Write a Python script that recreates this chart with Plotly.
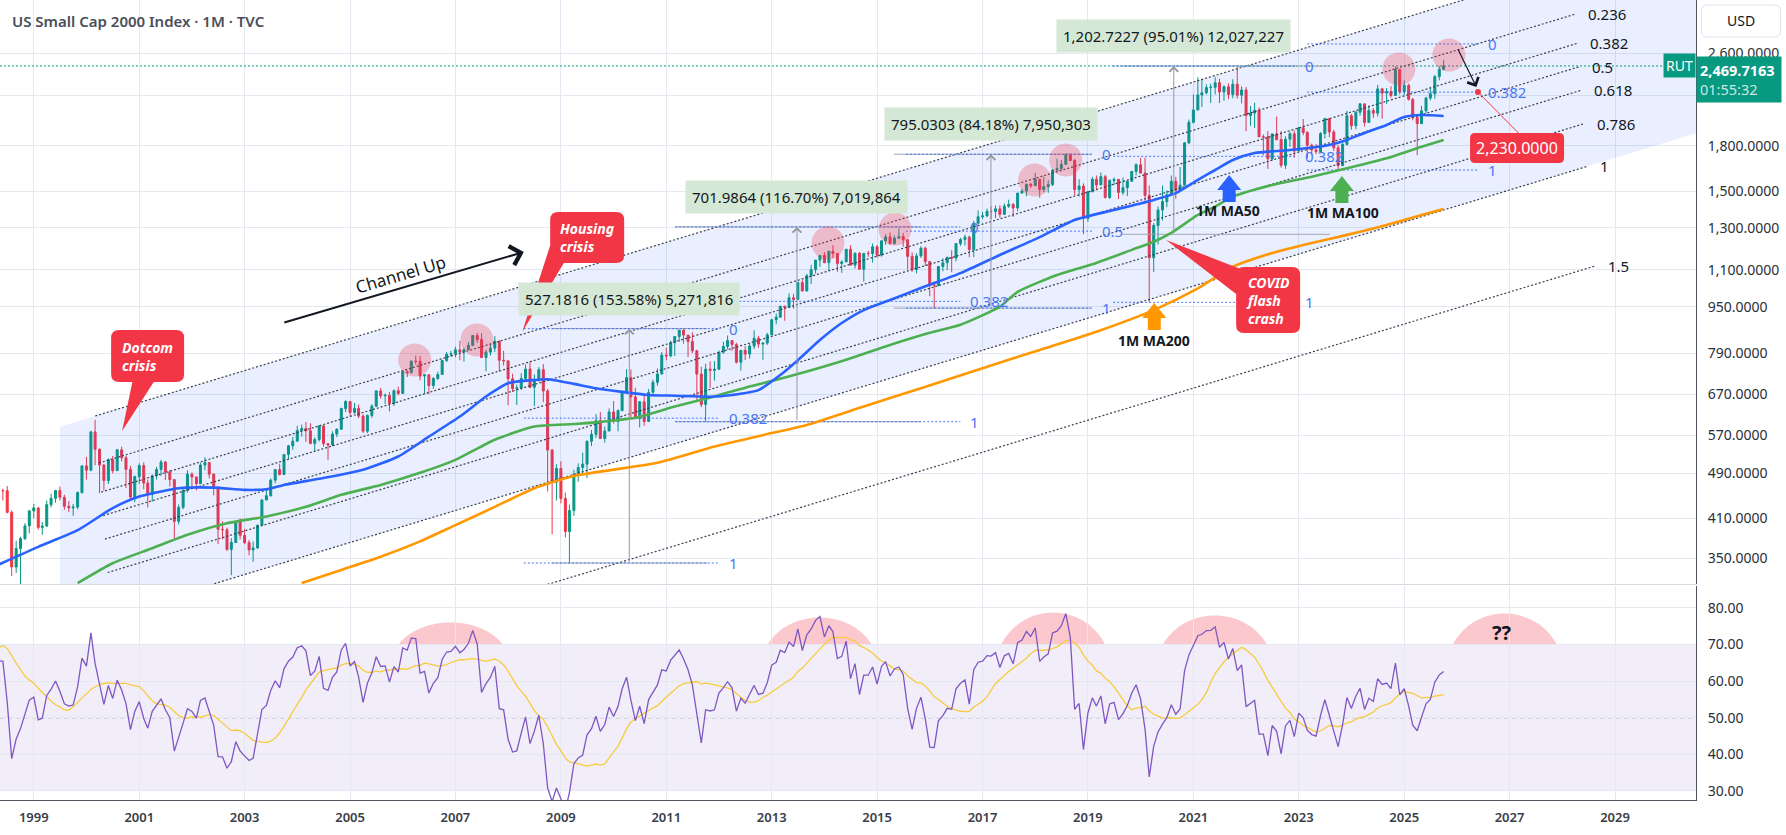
import numpy as np
import pandas as pd
import plotly.graph_objects as go

# ------------------------------------------------------------------ data ---
FIRST_MONTH = "1997-01-01"
OPEN_FIRST = 362.6
LAST_PRICE = 2469.7163

# closes of 1996, used only to warm up the RSI (left of the visible range)
warmup_closes_1996 = [315.4, 324.9, 332.6, 352.0, 365.9, 346.6, 316.0, 334.1, 346.4, 341.9, 354.1, 362.6]

closes = [
    369.9, 360.0, 342.6, 343.0, 380.8, 396.4, 414.5, 423.4, 453.8, 434.0, 431.1, 437.0,  # 1997
    430.1, 462.0, 481.0, 483.1, 457.4, 457.4, 419.8, 337.9, 363.6, 378.2, 397.8, 422.0,  # 1998
    427.2, 395.3, 397.6, 432.8, 443.7, 457.7, 445.6, 430.0, 427.3, 428.6, 454.1, 504.8,  # 1999
    496.2, 577.7, 539.1, 506.3, 476.2, 517.2, 495.3, 537.9, 521.4, 497.7, 445.9, 483.5,  # 2000
    505.3, 471.5, 450.5, 485.3, 497.7, 512.6, 492.7, 478.0, 404.9, 428.2, 458.0, 488.5,  # 2001
    483.1, 470.3, 506.5, 511.6, 488.5, 462.6, 392.4, 391.7, 362.3, 372.3, 404.0, 383.1,  # 2002
    372.2, 361.6, 364.5, 398.7, 441.0, 448.4, 477.0, 497.4, 487.7, 528.2, 546.5, 556.9,  # 2003
    580.8, 585.6, 580.1, 551.5, 560.3, 591.5, 551.3, 548.5, 572.9, 583.8, 633.8, 651.6,  # 2004
    624.0, 634.1, 615.1, 579.4, 616.7, 639.7, 679.8, 666.5, 667.8, 646.6, 680.2, 673.2,  # 2005
    733.2, 730.6, 765.1, 764.5, 721.0, 724.7, 694.6, 714.1, 725.6, 766.8, 786.1, 787.7,  # 2006
    800.3, 793.3, 800.7, 814.6, 847.2, 833.7, 776.1, 792.9, 805.5, 828.0, 767.8, 766.0,  # 2007
    713.3, 686.2, 687.9, 714.6, 741.5, 689.7, 710.7, 739.5, 679.6, 537.5, 473.1, 499.5,  # 2008
    443.5, 389.0, 422.8, 487.6, 501.6, 508.3, 556.7, 572.1, 604.3, 562.8, 579.7, 625.4,  # 2009
    602.0, 628.6, 678.6, 716.6, 663.8, 609.5, 650.9, 602.1, 676.1, 703.4, 727.0, 783.7,  # 2010
    781.3, 823.5, 843.6, 865.3, 848.3, 827.4, 797.0, 726.8, 644.2, 741.1, 737.4, 740.9,  # 2011
    792.8, 810.9, 830.3, 816.9, 761.8, 798.5, 786.9, 812.1, 837.5, 818.7, 821.9, 849.4,  # 2012
    902.1, 911.1, 951.5, 947.5, 984.1, 977.5, 1045.3, 1010.9, 1073.8, 1100.2, 1142.9, 1163.6,  # 2013
    1130.9, 1183.0, 1173.0, 1126.9, 1134.5, 1192.9, 1120.1, 1174.3, 1101.7, 1173.5, 1173.2, 1204.7,  # 2014
    1165.4, 1233.4, 1252.8, 1220.1, 1246.5, 1253.9, 1238.7, 1159.5, 1100.7, 1161.9, 1198.1, 1135.9,  # 2015
    1035.4, 1033.9, 1114.0, 1130.8, 1154.8, 1151.9, 1219.9, 1239.9, 1251.7, 1191.4, 1322.3, 1357.1,  # 2016
    1361.8, 1386.7, 1385.9, 1400.4, 1370.2, 1415.4, 1425.1, 1405.3, 1490.9, 1502.8, 1544.1, 1535.5,  # 2017
    1574.9, 1512.5, 1529.4, 1541.9, 1633.6, 1643.1, 1670.8, 1740.8, 1696.6, 1511.4, 1533.3, 1348.6,  # 2018
    1499.4, 1575.6, 1540.2, 1591.2, 1465.5, 1566.6, 1574.6, 1494.8, 1523.4, 1562.5, 1624.5, 1668.5,  # 2019
    1614.1, 1476.4, 1153.1, 1310.7, 1394.0, 1441.4, 1480.4, 1561.9, 1507.7, 1538.5, 1819.8, 1974.9,  # 2020
    2073.6, 2201.1, 2220.5, 2266.5, 2268.9, 2310.6, 2226.3, 2273.8, 2204.4, 2297.2, 2198.9, 2245.3,  # 2021
    2028.5, 2048.1, 2070.1, 1864.1, 1864.0, 1707.9, 1885.2, 1844.1, 1664.7, 1846.9, 1886.6, 1761.3,  # 2022
    1931.9, 1896.9, 1802.5, 1768.9, 1757.4, 1888.7, 2003.2, 1899.9, 1785.1, 1662.3, 1809.0, 2027.1,  # 2023
    1947.3, 2054.8, 2124.5, 1973.9, 2070.1, 2047.7, 2254.5, 2217.6, 2229.9, 2196.7, 2434.7, 2230.2,  # 2024
    2287.7, 2163.1, 2011.9, 1964.1, 2066.3, 2175.0, 2211.6, 2366.4, 2436.5, 2469.7163,             # 2025
]
highs = [
    374, 374, 364, 344, 381, 398, 416, 428, 454, 466, 436, 441,
    440, 463, 483, 491, 485, 461, 466, 423, 375, 381, 402, 424,
    434, 428, 404, 440, 452, 459, 465, 450, 439, 434, 456, 505,
    523, 580, 606, 541, 509, 520, 525, 540, 545, 525, 505, 486,
    510, 512, 478, 488, 503, 517, 515, 497, 478, 433, 460, 496,
    492, 484, 511, 522, 513, 490, 465, 405, 395, 379, 406, 410,
    393, 376, 374, 400, 442, 461, 480, 498, 509, 529, 549, 566,
    592, 595, 601, 598, 565, 593, 593, 552, 579, 586, 636, 655,
    651, 648, 644, 619, 619, 645, 681, 688, 673, 677, 684, 691,
    737, 738, 767, 782, 781, 726, 727, 718, 734, 769, 793, 797,
    810, 829, 807, 825, 848, 856, 855, 800, 820, 845, 831, 797,
    766, 728, 697, 729, 755, 764, 726, 747, 756, 685, 540, 508,
    514, 454, 433, 497, 510, 532, 558, 582, 620, 625, 590, 634,
    653, 632, 680, 741, 740, 688, 653, 669, 685, 711, 743, 793,
    807, 830, 844, 866, 870.4, 849, 858, 800, 748, 757, 764, 765,
    798, 826, 847, 832, 823, 799, 812, 821, 865, 846, 824, 856,
    904, 925, 952, 953, 1002, 1000, 1048, 1055, 1082, 1121, 1143, 1165,
    1179, 1187, 1212, 1176, 1142, 1193, 1213, 1178, 1180, 1174, 1185, 1221,
    1213, 1235, 1266, 1275, 1260, 1296, 1273, 1240, 1178, 1174, 1207, 1205,
    1136, 1050, 1116, 1151, 1159, 1188, 1220, 1248, 1264, 1259, 1335, 1392,
    1383, 1402, 1414, 1419, 1420, 1430, 1452, 1434, 1491, 1516, 1548, 1553,
    1615, 1578, 1590, 1569, 1640, 1708, 1700, 1742, 1740, 1707, 1575, 1550,
    1505, 1590, 1599, 1618, 1603, 1575, 1586, 1576, 1586, 1568, 1628, 1678,
    1715, 1716, 1536, 1323, 1414, 1536, 1508, 1599, 1590, 1654, 1826, 1996,
    2205, 2360, 2344, 2296, 2302, 2362, 2347, 2288, 2305, 2343, 2459, 2277,
    2272, 2106, 2134, 2095, 1882, 1907, 1891, 2021, 1907, 1868, 1902, 1911,
    1938, 2001, 1907, 1814, 1811, 1899, 2011, 2010, 1917, 1804, 1818, 2067,
    2041, 2065, 2130, 2125, 2111, 2090, 2291, 2264, 2263, 2280, 2466, 2441,
    2333, 2302, 2175, 2032, 2107, 2184, 2275, 2382, 2468, 2530,
]
lows = [
    358, 355, 340, 335, 342, 375, 394, 408, 422, 419, 420, 422,
    414, 429, 460, 472, 452, 440, 418, 326, 330, 310, 376, 386,
    410, 392, 384, 396, 428, 436, 440, 424, 420, 414, 425, 452,
    478, 494, 506, 453, 458, 470, 490, 495, 514, 462, 440, 437,
    470, 460, 428, 438, 478, 485, 477, 465, 378, 400, 425, 454,
    466, 458, 470, 496, 480, 449, 370, 377, 360, 327, 372, 377,
    370, 354, 345, 363, 398, 440, 447, 471, 486, 488, 518, 538,
    556, 567, 555, 550, 535, 556, 545, 517, 546, 566, 583, 625,
    614, 621, 610, 575, 575, 611, 638, 659, 645, 627, 640, 668,
    674, 718, 729, 755, 709, 671, 671, 685, 710, 725, 763, 778,
    777, 768, 764, 800, 812, 822, 775, 735, 782, 793, 735, 752,
    642, 677, 643, 683, 710, 687, 640, 705, 650, 456, 385, 440,
    435, 380, 343, 414, 474, 490, 481, 546, 564, 562, 554, 580,
    597, 579, 627, 673, 610, 607, 588, 592, 601, 665, 694, 726,
    768, 777, 781, 826, 820, 778, 790, 651, 637, 601.7, 688, 708,
    739, 788, 801, 797, 758, 737, 768, 773, 803, 807, 769, 816,
    857, 886, 910, 898, 944, 942, 976, 1009, 1009, 1039, 1083, 1112,
    1129, 1094, 1151, 1091, 1086, 1137, 1119, 1105, 1101, 1049, 1157, 1131,
    1154, 1158, 1214, 1215, 1215, 1246, 1205, 1101, 1091, 1084, 1153, 1116,
    990, 943, 1029, 1093, 1098, 1089, 1137, 1209, 1211, 1156, 1156, 1318,
    1345, 1355, 1344, 1350, 1352, 1368, 1406, 1356, 1387, 1489, 1472, 1521,
    1535, 1463, 1495, 1492, 1533, 1625, 1632, 1671, 1692, 1479, 1471, 1266,
    1331, 1495, 1507, 1540, 1459, 1456, 1537, 1456, 1480, 1473, 1561, 1599,
    1610, 1446, 966, 1090, 1216, 1337, 1410, 1478, 1458, 1503, 1545, 1811,
    1965, 2072, 2099, 2206, 2133, 2206, 2132, 2151, 2164, 2172, 2169, 2129,
    1906, 1947, 1932, 1861, 1733, 1641, 1698, 1837, 1649, 1641, 1792, 1716,
    1762, 1876, 1714, 1733, 1740, 1754, 1852, 1861, 1763, 1633, 1666, 1800,
    1917, 1920, 2028, 1942, 1971, 2009, 2020, 2003, 2124, 2177, 2193, 2205,
    2200, 2153, 1990, 1733, 1998, 2049, 2155, 2167, 2332, 2428,
]

# moving averages at sample months
ma50_months = ["1998-05", "1999-02", "1999-11", "2000-07", "2001-01", "2001-06", "2001-10", "2002-06",
               "2003-01", "2003-06", "2003-10", "2004-07", "2005-04", "2005-12", "2006-07", "2007-02",
               "2007-08", "2008-01", "2008-07", "2008-10", "2009-04", "2009-09", "2010-09", "2011-03",
               "2011-11", "2012-04", "2012-10", "2013-03", "2013-07", "2013-12", "2014-05", "2014-10",
               "2015-04", "2015-11", "2016-08", "2017-05", "2018-02", "2018-10", "2019-07", "2020-04",
               "2020-09", "2021-02", "2021-06", "2021-10", "2022-03", "2022-11", "2023-08", "2023-12",
               "2024-04", "2024-09", "2025-01", "2025-05", "2025-10"]
ma50_vals = [341, 366, 391, 427, 447, 456, 462, 463, 459, 460, 468, 481, 497, 524, 567, 614, 665, 701,
             710, 712, 699, 687, 669, 667, 664, 669, 682, 724, 768, 832, 890, 937, 975, 1023, 1085, 1166,
             1252, 1340, 1394, 1451, 1491, 1571, 1634, 1700, 1748, 1769, 1805, 1841, 1893, 1954, 2017,
             2033, 2025]
ma100_months = ["1999-11", "2000-07", "2001-04", "2001-12", "2002-09", "2003-06", "2004-03", "2004-11",
                "2005-08", "2006-05", "2007-01", "2007-10", "2008-07", "2009-04", "2009-09", "2010-06",
                "2011-03", "2011-12", "2012-08", "2013-01", "2013-09", "2014-06", "2015-03", "2016-01",
                "2016-08", "2017-05", "2017-09", "2018-06", "2019-03", "2019-11", "2020-04", "2020-08",
                "2021-02", "2021-06", "2021-10", "2022-07", "2023-04", "2023-12", "2024-09", "2025-05",
                "2025-10"]
ma100_vals = [317, 343, 364, 384, 402, 413, 429, 450, 468, 491, 517, 560, 590, 596, 600, 611, 639, 665,
              692, 707, 734, 769, 811, 856, 884, 950, 1007, 1077, 1130, 1190, 1229, 1273, 1367, 1413,
              1470, 1539, 1591, 1645, 1712, 1792, 1841]
ma200_months = ["2004-02", "2004-11", "2005-08", "2006-05", "2007-01", "2007-10", "2008-07", "2009-04",
                "2010-11", "2011-12", "2013-01", "2013-09", "2014-10", "2015-11", "2017-01", "2018-02",
                "2019-03", "2020-04", "2021-02", "2021-10", "2022-07", "2023-04", "2023-12", "2024-09",
                "2025-05", "2025-10"]
ma200_vals = [317, 334, 352, 374, 399, 429, 462, 485, 511, 545, 575, 594, 639, 687, 744, 800, 860, 937,
              1021, 1113, 1175, 1223, 1263, 1314, 1367, 1400]

# parallel (fib) channel: anchor times (decimal years) and level-0 / level-1 prices
CH_T = [2000.167, 2028.507]
CH_L0 = [615.3, 3734.0]
CH_L1 = [273.8, 1661.0]
CH_LEVELS = [0, 0.236, 0.382, 0.5, 0.618, 0.786, 1, 1.5]

# price-range measurements
meas_diff = [527.1816, 701.9864, 795.0303, 1202.7227]
meas_pct = [153.58, 116.70, 84.18, 95.01]
meas_t = [2010.30, 2013.48, 2017.16, 2020.63]
meas_from = [2008.82, 2011.17, 2015.32, 2019.66]
meas_to = [2011.78, 2015.83, 2019.06, 2023.59]

# fib retracements (log levels)
fib_p0 = [870.44, 1303.52, 1739.47, 2468.61, 2695.0]
fib_p1 = [343.26, 601.53, 944.44, 966.2, 1634.0]
fib_levels = [[0, 0.382, 1], [0, 0.382, 1], [0, 0.5, 1], [0, 0.382, 1], [0, 0.382, 1]]
fib_from = [2008.30, 2011.17, 2015.55, 2019.48, 2023.16]
fib_to = [2012.00, 2016.58, 2019.08, 2022.93, 2026.40]

# highlighted tops
top_t = [2006.23, 2007.41, 2014.07, 2015.34, 2017.99, 2018.58, 2024.90, 2025.85]
top_p = [768.6, 832.1, 1222.9, 1292.5, 1570.4, 1700.2, 2439.7, 2579.6]

# RSI overbought domes
dome_t = [2006.91, 2013.91, 2018.34, 2021.41, 2026.91]

TARGET = 2230.0
TARGET_T = 2026.40

# ---------------------------------------------------------------- helpers --
def ts(y):
    yr = int(np.floor(y))
    a = pd.Timestamp(year=yr, month=1, day=1)
    b = pd.Timestamp(year=yr + 1, month=1, day=1)
    return (a + (b - a) * (y - yr)).strftime("%Y-%m-%d")


def lg(p):
    return float(np.log10(p))


def chan_price(level, t):
    f = (t - CH_T[0]) / (CH_T[1] - CH_T[0])
    g0 = lg(CH_L0[0]) + f * (lg(CH_L0[1]) - lg(CH_L0[0]))
    g1 = lg(CH_L1[0]) + f * (lg(CH_L1[1]) - lg(CH_L1[0]))
    return 10 ** (g0 + level * (g1 - g0))


def fib_price(p0, p1, lev):
    return 10 ** (lg(p0) + lev * (lg(p1) - lg(p0)))


def rrect(w, h, r):
    a, b = w / 2, h / 2
    return (f"M{-a + r},{b} L{a - r},{b} Q{a},{b} {a},{b - r} L{a},{-b + r} Q{a},{-b} {a - r},{-b} "
            f"L{-a + r},{-b} Q{-a},{-b} {-a},{-b + r} L{-a},{b - r} Q{-a},{b} {-a + r},{b} Z")


def poly(pts):
    return "M" + " L".join(f"{x},{y}" for x, y in pts) + " Z"


def rma(values, n):
    out = np.full(len(values), np.nan)
    out[n] = np.mean(values[1:n + 1])
    for i in range(n + 1, len(values)):
        out[i] = (out[i - 1] * (n - 1) + values[i]) / n
    return out


months = pd.date_range(FIRST_MONTH, periods=len(closes), freq="MS")
opens = [OPEN_FIRST] + closes[:-1]

all_closes = np.array(warmup_closes_1996 + closes, dtype=float)
all_months = pd.date_range("1996-01-01", periods=len(all_closes), freq="MS")
d = np.diff(all_closes, prepend=np.nan)
up = np.where(d > 0, d, 0.0)
dn = np.where(d < 0, -d, 0.0)
rsi = pd.Series(100 - 100 / (1 + rma(up, 14) / rma(dn, 14)), index=all_months)
rsi_ma = rsi.rolling(14).mean()

X0, X1 = 1998.3607, 2030.537
UP, DOWN = "#089981", "#F23645"
GRID = "#e4e9f1"
FONT = "Noto Sans"

fig = go.Figure()

# channel fill
cf0, cf1 = 1999.50, 2031.5
fig.add_trace(go.Scatter(
    x=[ts(cf0), ts(cf1), ts(cf1), ts(cf0), ts(cf0)],
    y=[chan_price(0, cf0), chan_price(0, cf1), chan_price(1, cf1), chan_price(1, cf0), chan_price(0, cf0)],
    mode="lines", fill="toself", fillcolor="rgba(41,98,255,0.10)", line=dict(width=0),
    hoverinfo="skip"))

# channel level lines
CH_START, CH_END, CH_SLANT = 2000.167, 2028.18, 0.3
cx, cy = [], []
for lev in CH_LEVELS:
    t0, t1 = CH_START + CH_SLANT * lev, CH_END + CH_SLANT * lev
    cx += [ts(t0), ts(t1), None]
    cy += [chan_price(lev, t0), chan_price(lev, t1), None]
fig.add_trace(go.Scatter(x=cx, y=cy, mode="lines", line=dict(color="#3b3f4a", width=1.2, dash="2px,2px"),
                         hoverinfo="skip"))

# current price line
fig.add_trace(go.Scatter(x=[ts(X0), ts(X1)], y=[LAST_PRICE, LAST_PRICE], mode="lines",
                         line=dict(color=UP, width=1, dash="2px,2px"), hoverinfo="skip"))

# measurement horizontals
mx, my = [], []
for dd, pc, a, b in zip(meas_diff, meas_pct, meas_from, meas_to):
    lo = dd / pc * 100
    hi = lo + dd
    for p in (lo, hi):
        mx += [ts(a), ts(b), None]
        my += [p, p, None]
fig.add_trace(go.Scatter(x=mx, y=my, mode="lines", line=dict(color="#a3a6af", width=1), hoverinfo="skip"))

# fib retracement lines
fx, fy = [], []
for p0, p1, levs, a, b in zip(fib_p0, fib_p1, fib_levels, fib_from, fib_to):
    for lev in levs:
        p = fib_price(p0, p1, lev)
        fx += [ts(a), ts(b), None]
        fy += [p, p, None]
fig.add_trace(go.Scatter(x=fx, y=fy, mode="lines", line=dict(color="rgba(41,98,255,0.85)", width=1, dash="2px,2px"),
                         hoverinfo="skip"))

# candles
fig.add_trace(go.Candlestick(
    x=months, open=opens, high=highs, low=lows, close=closes,
    increasing=dict(line=dict(color=UP, width=1), fillcolor=UP),
    decreasing=dict(line=dict(color=DOWN, width=1), fillcolor=DOWN),
    whiskerwidth=0, hoverinfo="skip"))

# moving averages
for m, v, col in ((ma200_months, ma200_vals, "#FF9800"), (ma100_months, ma100_vals, "#4CAF50"),
                  (ma50_months, ma50_vals, "#2962FF")):
    fig.add_trace(go.Scatter(x=[s + "-01" for s in m], y=v, mode="lines",
                             line=dict(color=col, width=2.6, shape="spline", smoothing=0.6), hoverinfo="skip"))

# highlighted tops
fig.add_trace(go.Scatter(x=[ts(t) for t in top_t], y=top_p, mode="markers",
                         marker=dict(size=33, color="rgba(242,54,69,0.28)", line=dict(width=0)),
                         hoverinfo="skip"))

# target marker and leader line
e = len(fib_p0) - 1
target_p = fib_price(fib_p0[e], fib_p1[e], 0.382)
fig.add_trace(go.Scatter(x=[ts(TARGET_T), ts(2027.17)], y=[target_p, 1892], mode="lines",
                         line=dict(color=DOWN, width=1), hoverinfo="skip"))
fig.add_trace(go.Scatter(x=[ts(TARGET_T)], y=[target_p], mode="markers",
                         marker=dict(size=6, color=DOWN), hoverinfo="skip"))

# RSI pane
fig.add_trace(go.Scatter(x=all_months, y=rsi_ma, mode="lines", line=dict(color="#F7CB3D", width=1.3),
                         xaxis="x2", yaxis="y2", hoverinfo="skip"))
fig.add_trace(go.Scatter(x=all_months, y=rsi, mode="lines", line=dict(color="#7E57C2", width=1.3),
                         xaxis="x2", yaxis="y2", hoverinfo="skip"))

# ---------------------------------------------------------------- shapes ---
shapes = []
shapes.append(dict(type="rect", xref="paper", yref="y2", x0=0, x1=1, y0=30, y1=70,
                   fillcolor="rgba(126,87,194,0.10)", line=dict(width=0), layer="below"))
shapes.append(dict(type="line", xref="paper", yref="y2", x0=0, x1=1, y0=50, y1=50,
                   line=dict(color="#9598a1", width=1, dash="4px,4px"), layer="below"))
dome_h = [22, 27, 32, 29, 31]
for t, h in zip(dome_t, dome_h):
    c = h / 0.75
    shapes.append(dict(type="path", xref="x2", yref="y2", xsizemode="pixel", ysizemode="pixel",
                       xanchor=ts(t), yanchor=70, path=f"M-52,0 C-30,{c:.1f} 30,{c:.1f} 52,0 Z",
                       fillcolor="rgba(242,54,69,0.27)", line=dict(width=0), layer="below"))

callout_t = [2001.16, 2009.50, 2022.42]
callout_p = [780.8, 1249.9, 975.2]
callout_wh = [(73, 52), (74, 51), (64, 66)]
callout_tail = [[(-14, -20), (10, -20), (-25.5, -75)],
                [(-37, -8), (-20, -20), (-65, -94.5)],
                [(-20, 28), (-32, 6), (-102, 60)]]
callout_text = ["Dotcom<br>crisis", "Housing<br>crisis", "COVID<br>flash<br>crash"]
for t, p, (w, h), tail in zip(callout_t, callout_p, callout_wh, callout_tail):
    for path in (poly(tail), rrect(w, h, 8)):
        shapes.append(dict(type="path", xref="x", yref="y", xsizemode="pixel", ysizemode="pixel",
                           xanchor=ts(t), yanchor=p, path=path, fillcolor=DOWN, line=dict(width=0)))
TGT_BOX_T, TGT_BOX_P = 2027.145, 1783.5
shapes.append(dict(type="path", xref="x", yref="y", xsizemode="pixel", ysizemode="pixel",
                   xanchor=ts(TGT_BOX_T), yanchor=TGT_BOX_P, path=rrect(94, 30, 5),
                   fillcolor=DOWN, line=dict(width=0)))
arrow_t = [2021.68, 2023.82, 2020.26]
arrow_p = [1601.9, 1595.5, 963.8]
arrow_c = ["#2962FF", "#4CAF50", "#FF9800"]
block = poly([(0, 0), (12, -15), (6.5, -15), (6.5, -27), (-6.5, -27), (-6.5, -15), (-12, -15)])
for t, p, c in zip(arrow_t, arrow_p, arrow_c):
    shapes.append(dict(type="path", xref="x", yref="y", xsizemode="pixel", ysizemode="pixel",
                       xanchor=ts(t), yanchor=p, path=block, fillcolor=c, line=dict(width=0)))
# USD box (rounded) in paper coordinates of the right margin
shapes.append(dict(type="path", xref="paper", yref="paper", xsizemode="pixel", ysizemode="pixel",
                   xanchor=1741 / 1696, yanchor=1 - 21 / 800, path=rrect(79, 32, 6),
                   fillcolor="white", line=dict(color="#e0e3eb", width=1)))

# ----------------------------------------------------------- annotations ---
ann = []
txt = dict(family=FONT, size=15, color="#131722")
blue_txt = dict(family=FONT, size=15, color="#4a78f0")

for lev in CH_LEVELS:
    t1 = CH_END + CH_SLANT * lev
    p = chan_price(lev, t1)
    if p > 3150:
        continue
    ann.append(dict(x=ts(t1 + 0.2), y=lg(p), xref="x", yref="y", text=f"{lev:g}", showarrow=False,
                    xanchor="left", yanchor="middle", font=txt))

for p0, p1, levs, b in zip(fib_p0, fib_p1, fib_levels, fib_to):
    for lev in levs:
        ann.append(dict(x=ts(b + 0.15), y=lg(fib_price(p0, p1, lev)), xref="x", yref="y", text=f"{lev:g}",
                        showarrow=False, xanchor="left", yanchor="middle", font=blue_txt))

for dd, pc, t in zip(meas_diff, meas_pct, meas_t):
    lo = dd / pc * 100
    hi = lo + dd
    ann.append(dict(x=ts(t), y=lg(hi), ax=ts(t), ay=lg(lo), xref="x", yref="y", axref="x", ayref="y",
                    text="", showarrow=True, arrowhead=4, arrowsize=1.7, arrowwidth=1, arrowcolor="#9598a1",
                    standoff=0))
    ann.append(dict(x=ts(t), y=lg(hi), xref="x", yref="y", showarrow=False, yanchor="bottom", yshift=13,
                    text=f"{dd:,.4f} ({pc:.2f}%) {round(dd * 10000):,}", font=txt,
                    bgcolor="#d4e8d5", borderpad=6))

for t, p, s in zip(callout_t, callout_p, callout_text):
    ann.append(dict(x=ts(t), y=lg(p), xref="x", yref="y", showarrow=False, align="left",
                    text=f"<b><i>{s}</i></b>", font=dict(family=FONT, size=14, color="white")))
ann.append(dict(x=ts(TGT_BOX_T), y=lg(TGT_BOX_P), xref="x", yref="y", showarrow=False,
                text=f"{TARGET:,.4f}", font=dict(family=FONT, size=16, color="white")))

for s, t, p in (("1M MA50", 2021.66, 1389), ("1M MA100", 2023.84, 1383), ("1M MA200", 2020.26, 828.8)):
    ann.append(dict(x=ts(t), y=lg(p), xref="x", yref="y", showarrow=False, text=f"<b>{s}</b>",
                    font=dict(family=FONT, size=14, color="#131722")))

ann.append(dict(x=ts(2008.30), y=lg(1180), xref="x", yref="y", ax=-241, ay=71, text="", showarrow=True,
                arrowhead=4, arrowsize=1.9, arrowwidth=2, arrowcolor="#131722", standoff=0))
ann.append(dict(x=ts(2005.95), y=lg(1081), xref="x", yref="y", text="Channel Up", showarrow=False,
                textangle=-16.5, font=dict(family=FONT, size=17, color="#131722")))
ann.append(dict(x=ts(2026.37), y=lg(2272), xref="x", yref="y", ax=-19, ay=-39, text="", showarrow=True,
                arrowhead=4, arrowsize=2.0, arrowwidth=1.2, arrowcolor="#131722", standoff=0))
ann.append(dict(x=ts(2026.86), y=73.4, xref="x2", yref="y2", text="<b>??</b>", showarrow=False,
                font=dict(family=FONT, size=20, color="#131722")))

ann.append(dict(x=10 / 1696, y=1 - 21 / 800, xref="paper", yref="paper", xanchor="left", yanchor="middle",
                showarrow=False, text="US Small Cap 2000 Index · 1M · TVC",
                font=dict(family=FONT, size=15, color="#4a4e5a", weight=600)))
ann.append(dict(x=1741 / 1696, y=1 - 21 / 800, xref="paper", yref="paper", xanchor="center", yanchor="middle",
                showarrow=False, text="USD", font=dict(family=FONT, size=14, color="#131722")))
ann.append(dict(x=1, y=lg(LAST_PRICE), xref="paper", yref="y", xanchor="right", yanchor="middle",
                showarrow=False, text="RUT", font=dict(family=FONT, size=14, color="white"),
                bgcolor=UP, borderpad=2))
ann.append(dict(x=1, y=lg(LAST_PRICE), xref="paper", yref="y", xanchor="left", yanchor="top", yshift=10,
                showarrow=False, align="left", width=78,
                text=f"<b>{LAST_PRICE:,.4f}</b><br><span style='color:rgba(255,255,255,0.8)'>01:55:32</span>",
                font=dict(family=FONT, size=14.5, color="white"), bgcolor=UP, borderpad=3))

# ----------------------------------------------------------------- layout ---
years = list(range(1999, 2030, 2))
price_ticks = [350, 410, 490, 570, 670, 790, 950, 1100, 1300, 1500, 1800, 2200, 2600]
rsi_ticks = [30, 40, 50, 60, 70, 80]
axis_font = dict(family=FONT, size=14, color="#2a2e39")

fig.update_layout(
    width=1786, height=835, margin=dict(l=0, r=90, t=0, b=35),
    paper_bgcolor="white", plot_bgcolor="white", showlegend=False,
    shapes=shapes, annotations=ann,
    xaxis=dict(domain=[0, 1], anchor="y", type="date", range=[ts(X0), ts(X1)],
               tickvals=[f"{y}-01-01" for y in years], showticklabels=False, ticks="",
               showgrid=True, gridcolor=GRID, zeroline=False, showline=True, linecolor="#d6dbe4",
               rangeslider=dict(visible=False)),
    xaxis2=dict(domain=[0, 1], anchor="y2", type="date", matches="x",
                tickvals=[f"{y}-01-01" for y in years], ticktext=[str(y) for y in years], ticks="",
                tickfont=dict(family=FONT, size=13, color="#3a3e4a", weight=600), ticklabelstandoff=5,
                showgrid=True, gridcolor=GRID, zeroline=False, showline=True, linecolor="#50535e"),
    yaxis=dict(domain=[0.27, 1], anchor="x", side="right", type="log", range=[2.49945, 3.50635],
               tickvals=price_ticks, ticktext=[f"{v:,.4f}" for v in price_ticks], tickfont=axis_font,
               ticks="", ticklabelstandoff=8, showgrid=True, gridcolor=GRID, zeroline=False,
               showline=True, linecolor="#50535e"),
    yaxis2=dict(domain=[0, 0.2675], anchor="x2", side="right", range=[27.54, 86.0],
                tickvals=rsi_ticks, ticktext=[f"{v:.2f}" for v in rsi_ticks], tickfont=axis_font,
                ticks="", ticklabelstandoff=8, showgrid=True, gridcolor=GRID, zeroline=False,
                showline=True, linecolor="#50535e"),
)

fig.write_html("out.html")
